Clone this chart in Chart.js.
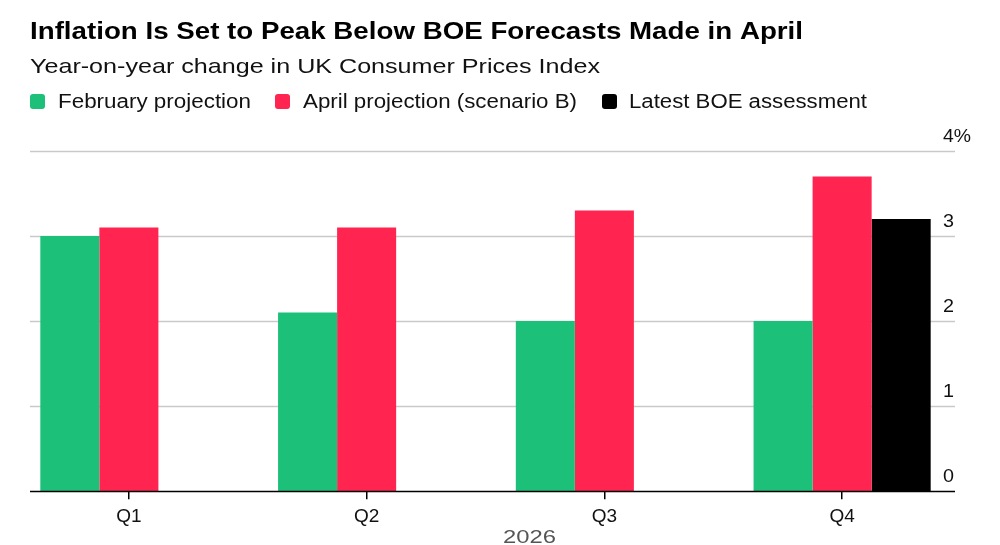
<!DOCTYPE html>
<html>
<head>
<meta charset="utf-8">
<script src="https://cdn.jsdelivr.net/npm/chart.js@4.4.1/dist/chart.umd.min.js"></script>
<style>
  html, body { margin: 0; padding: 0; background: #fff; }
  #wrap { width: 1000px; height: 545px; position: relative; }
</style>
</head>
<body>
<div id="wrap"><canvas id="c" width="1000" height="545"></canvas></div>
<script>
// ---- data ----
const categories = ['Q1', 'Q2', 'Q3', 'Q4'];
const februaryProjection = [3.0, 2.1, 2.0, 2.0];
const aprilProjection = [3.1, 3.1, 3.3, 3.7];
const latestAssessment = [null, null, null, 3.2];
const seriesNames = ['February projection', 'April projection (scenario B)', 'Latest BOE assessment'];
const yTickValues = [0, 1, 2, 3, 4];
const yTickLabels = ['0', '1', '2', '3', '4%'];
const titleText = 'Inflation Is Set to Peak Below BOE Forecasts Made in April';
const subtitleText = 'Year-on-year change in UK Consumer Prices Index';
const xAxisTitle = '2026';

// ---- styles ----
const COLORS = ['#1cc079', '#ff2550', '#000000'];
const FONT = '"Liberation Sans", Arial, Helvetica, sans-serif';
const GRID_X0 = 30, GRID_X1 = 955;

function fitText(ctx, text, x, y, font, targetW, color) {
  ctx.save();
  ctx.font = font;
  ctx.fillStyle = color;
  ctx.textBaseline = 'alphabetic';
  ctx.textAlign = 'left';
  const w = ctx.measureText(text).width;
  const sx = targetW / w;
  ctx.translate(x, y);
  ctx.scale(sx, 1);
  ctx.fillText(text, 0, 0);
  ctx.restore();
}

function roundRect(ctx, x, y, w, h, r) {
  ctx.beginPath();
  ctx.moveTo(x + r, y);
  ctx.lineTo(x + w - r, y);
  ctx.quadraticCurveTo(x + w, y, x + w, y + r);
  ctx.lineTo(x + w, y + h - r);
  ctx.quadraticCurveTo(x + w, y + h, x + w - r, y + h);
  ctx.lineTo(x + r, y + h);
  ctx.quadraticCurveTo(x, y + h, x, y + h - r);
  ctx.lineTo(x, y + r);
  ctx.quadraticCurveTo(x, y, x + r, y);
  ctx.closePath();
}

const decorPlugin = {
  id: 'decor',
  beforeDatasetsDraw(chart) {
    const ctx = chart.ctx;
    const ys = chart.scales.y;
    ctx.save();
    ctx.strokeStyle = '#c9c9c9';
    ctx.lineWidth = 1.5;
    yTickValues.forEach(v => {
      if (v === 0) return;
      const y = Math.round(ys.getPixelForValue(v)) + 0.5;
      ctx.beginPath();
      ctx.moveTo(GRID_X0, y);
      ctx.lineTo(GRID_X1, y);
      ctx.stroke();
    });
    ctx.restore();
  },
  afterDatasetsDraw(chart) {
    const ctx = chart.ctx;
    const ys = chart.scales.y;
    ctx.save();
    // baseline
    const y0 = Math.round(ys.getPixelForValue(0)) + 0.5;
    ctx.strokeStyle = '#000';
    ctx.lineWidth = 1.5;
    ctx.beginPath();
    ctx.moveTo(GRID_X0, y0);
    ctx.lineTo(GRID_X1, y0);
    ctx.stroke();
    ctx.restore();
    // y tick labels above gridlines on the right
    yTickValues.forEach((v, i) => {
      const y = ys.getPixelForValue(v);
      const lbl = yTickLabels[i];
      fitText(ctx, lbl, 943, y - 9, '18.5px ' + FONT, lbl.length > 1 ? 28 : 11, '#111');
    });

    // title, subtitle
    fitText(ctx, titleText, 30, 39, 'bold 23.5px ' + FONT, 773, '#000');
    fitText(ctx, subtitleText, 30, 73, '21px ' + FONT, 570, '#111');

    // legend
    const legendItems = [
      { box: 30, textX: 58, textW: 193 },
      { box: 275, textX: 303, textW: 274 },
      { box: 602, textX: 629, textW: 238 }
    ];
    legendItems.forEach((it, i) => {
      ctx.save();
      ctx.fillStyle = COLORS[i];
      roundRect(ctx, it.box, 94, 15, 15, 3);
      ctx.fill();
      ctx.restore();
      fitText(ctx, seriesNames[i], it.textX, 108, '19.5px ' + FONT, it.textW, '#111');
    });

    // x axis title
    fitText(ctx, xAxisTitle, 503, 543, '18px ' + FONT, 53, '#555');
  }
};

new Chart(document.getElementById('c'), {
  type: 'bar',
  data: {
    labels: categories,
    datasets: [
      { label: seriesNames[0], data: februaryProjection, backgroundColor: COLORS[0] },
      { label: seriesNames[1], data: aprilProjection, backgroundColor: COLORS[1] },
      { label: seriesNames[2], data: latestAssessment, backgroundColor: COLORS[2] }
    ]
  },
  options: {
    responsive: false,
    animation: false,
    devicePixelRatio: 1,
    layout: { padding: { left: 10, right: 39, top: 151, bottom: 11 } },
    datasets: { bar: { categoryPercentage: 0.745, barPercentage: 1.0, borderWidth: 0 } },
    plugins: {
      legend: { display: false },
      title: { display: false },
      tooltip: { enabled: false }
    },
    scales: {
      x: {
        grid: { display: true, drawOnChartArea: false, drawTicks: true, tickLength: 8, color: '#000', lineWidth: 1.5, offset: false },
        border: { display: false },
        ticks: { color: '#111', font: { family: FONT, size: 19 }, padding: 6 }
      },
      y: {
        display: false,
        min: 0,
        max: 4
      }
    }
  },
  plugins: [decorPlugin]
});
</script>
</body>
</html>
